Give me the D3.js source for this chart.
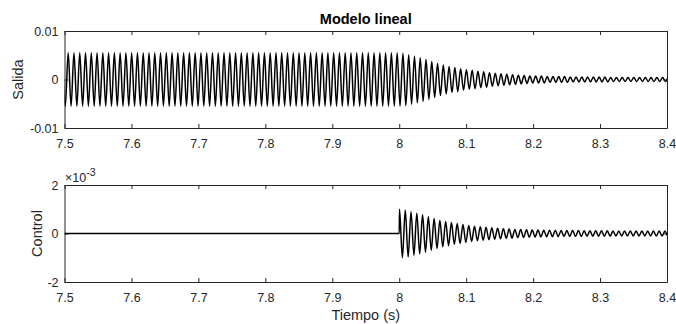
<!DOCTYPE html>
<html>
<head>
<meta charset="utf-8">
<script src="https://cdn.jsdelivr.net/npm/d3@7"></script>
<style>
  body { margin: 0; background: #fff; }
  svg { display: block; font-family: "Liberation Sans", Arial, Helvetica, sans-serif; }
  .axis text { fill: #262626; font-size: 12.5px; }
  .axis line, .axis path { stroke: #262626; }
</style>
</head>
<body>
<div id="chartdiv"></div>
<script>
// x ticks shared by both subplots
const xTicks = [7.5, 7.6, 7.7, 7.8, 7.9, 8.0, 8.1, 8.2, 8.3, 8.4];
const xTickLabels = ["7.5", "7.6", "7.7", "7.8", "7.9", "8", "8.1", "8.2", "8.3", "8.4"];

const salidaTicks = [-0.01, 0, 0.01];
const salidaTickLabels = ["-0.01", "0", "0.01"];
const controlTicks = [-2, 0, 2];            // in units of 1e-3
const controlTickLabels = ["-2", "0", "2"];

// oscillation: about 116 Hz, peaks listed per cycle
const freqHz = 116;
const salidaStart = 7.4969;   // time of the first (clipped) maximum
const salidaPeaks = [
  0.0055, 0.0055, 0.0055, 0.0055, 0.0055, 0.0055, 0.0055, 0.0055, 0.0055, 0.0055,
  0.0055, 0.0055, 0.0055, 0.0055, 0.0055, 0.0055, 0.0055, 0.0055, 0.0055, 0.0055,
  0.0055, 0.0055, 0.0055, 0.0055, 0.0055, 0.0055, 0.0055, 0.0055, 0.0055, 0.0055,
  0.0055, 0.0055, 0.0055, 0.0055, 0.0055, 0.0055, 0.0055, 0.0055, 0.0055, 0.0055,
  0.0055, 0.0055, 0.0055, 0.0055, 0.0055, 0.0055, 0.0055, 0.0055, 0.0055, 0.0055,
  0.0055, 0.0055, 0.0055, 0.0055, 0.0055, 0.0055, 0.0055, 0.0055,
  0.0055, 0.0054, 0.0051, 0.0048, 0.0045, 0.0041, 0.0037, 0.0033, 0.0030, 0.0027,
  0.0025, 0.0022, 0.0020, 0.0019, 0.0017, 0.0016, 0.0014, 0.0013, 0.0012, 0.0011,
  0.0010, 0.0009, 0.0008, 0.0007, 0.0007, 0.0007, 0.0006, 0.0006, 0.0006, 0.0006,
  0.0005, 0.0005, 0.0005, 0.0005, 0.0005, 0.0005, 0.0005, 0.0004, 0.0004, 0.0004,
  0.0004, 0.0004, 0.0004, 0.0004, 0.0004, 0.0004, 0.0004, 0.0004
];

const controlStart = 8.0004;  // first maximum, right after the step at 8 s
const controlPeaks = [
  1.00, 0.97, 0.90, 0.84, 0.77, 0.69, 0.62, 0.55, 0.50, 0.45,
  0.41, 0.37, 0.33, 0.30, 0.28, 0.26, 0.24, 0.22, 0.20, 0.19,
  0.17, 0.16, 0.15, 0.14, 0.14, 0.13, 0.13, 0.13, 0.12, 0.12,
  0.12, 0.12, 0.11, 0.11, 0.11, 0.11, 0.11, 0.10, 0.10, 0.10,
  0.10, 0.10, 0.10, 0.10, 0.10, 0.10, 0.10, 0.10
];
const controlFlat = [[7.5, 0], [8.0, 0]];

const W = 676, H = 324;
const margin = { left: 64.5, right: 9 };
const top1 = 31, bot1 = 128, top2 = 185, bot2 = 282;

const svg = d3.select("#chartdiv").append("svg")
  .attr("width", W).attr("height", H);

const x = d3.scaleLinear().domain([7.5, 8.4]).range([margin.left, W - margin.right]);
const y1 = d3.scaleLinear().domain([-0.01, 0.01]).range([bot1, top1]);
const y2 = d3.scaleLinear().domain([-2, 2]).range([bot2, top2]);

const half = 0.5 / freqHz;
function peakSeries(start, peaks, firstSign) {
  let pts = [];
  peaks.forEach(function (a, i) {
    pts.push([start + (2 * i) * half, firstSign * a]);
    pts.push([start + (2 * i + 1) * half, -firstSign * a]);
  });
  return pts;
}
const salidaData = peakSeries(salidaStart, salidaPeaks, 1);
const controlData = controlFlat.concat(peakSeries(controlStart, controlPeaks, 1));

function drawAxes(y, top, bot, yTicks, yLabels, id) {
  const g = svg.append("g");
  g.append("clipPath").attr("id", id)
    .append("rect")
    .attr("x", x.range()[0]).attr("y", top)
    .attr("width", x.range()[1] - x.range()[0]).attr("height", bot - top);

  g.append("g").attr("class", "axis")
    .attr("transform", "translate(0," + bot + ")")
    .call(d3.axisBottom(x).tickValues(xTicks).tickFormat((d, i) => xTickLabels[i])
      .tickSizeInner(-4).tickSizeOuter(0).tickPadding(11));
  g.append("g").attr("class", "axis")
    .attr("transform", "translate(0," + top + ")")
    .call(d3.axisTop(x).tickValues(xTicks).tickFormat("")
      .tickSizeInner(-4).tickSizeOuter(0));
  g.append("g").attr("class", "axis")
    .attr("transform", "translate(" + x.range()[0] + ",0)")
    .call(d3.axisLeft(y).tickValues(yTicks).tickFormat((d, i) => yLabels[i])
      .tickSizeInner(-4).tickSizeOuter(0).tickPadding(6));
  g.append("g").attr("class", "axis")
    .attr("transform", "translate(" + x.range()[1] + ",0)")
    .call(d3.axisRight(y).tickValues(yTicks).tickFormat("")
      .tickSizeInner(-4).tickSizeOuter(0));
  return g;
}

const g1 = drawAxes(y1, top1, bot1, salidaTicks, salidaTickLabels, "clip1");
const g2 = drawAxes(y2, top2, bot2, controlTicks, controlTickLabels, "clip2");

const line1 = d3.line().x(d => x(d[0])).y(d => y1(d[1])).curve(d3.curveMonotoneX);
const line2 = d3.line().x(d => x(d[0])).y(d => y2(d[1])).curve(d3.curveMonotoneX);

g1.append("path").datum(salidaData)
  .attr("clip-path", "url(#clip1)")
  .attr("fill", "none").attr("stroke", "#000").attr("stroke-width", 1.5)
  .attr("d", line1);
g2.append("path").datum(controlData)
  .attr("clip-path", "url(#clip2)")
  .attr("fill", "none").attr("stroke", "#000").attr("stroke-width", 1.5)
  .attr("d", line2);

// titles and labels
const cx = (x.range()[0] + x.range()[1]) / 2;
svg.append("text").attr("x", cx).attr("y", 24)
  .attr("text-anchor", "middle").attr("font-weight", "bold")
  .attr("font-size", 14.5).attr("fill", "#000").text("Modelo lineal");

svg.append("text")
  .attr("transform", "translate(23," + ((top1 + bot1) / 2) + ") rotate(-90)")
  .attr("text-anchor", "middle").attr("font-size", 14.5).attr("fill", "#262626")
  .text("Salida");
svg.append("text")
  .attr("transform", "translate(42," + ((top2 + bot2) / 2) + ") rotate(-90)")
  .attr("text-anchor", "middle").attr("font-size", 14.5).attr("fill", "#262626")
  .text("Control");

svg.append("text").attr("x", cx).attr("y", 320)
  .attr("text-anchor", "middle").attr("font-size", 14.5).attr("fill", "#262626")
  .text("Tiempo (s)");

const expo = svg.append("text").attr("x", 65).attr("y", 182)
  .attr("font-size", 12.5).attr("fill", "#262626");
expo.append("tspan").text("\u00d710");
expo.append("tspan").attr("dy", -6).attr("font-size", 10.5).text("-3");
</script>
</body>
</html>
